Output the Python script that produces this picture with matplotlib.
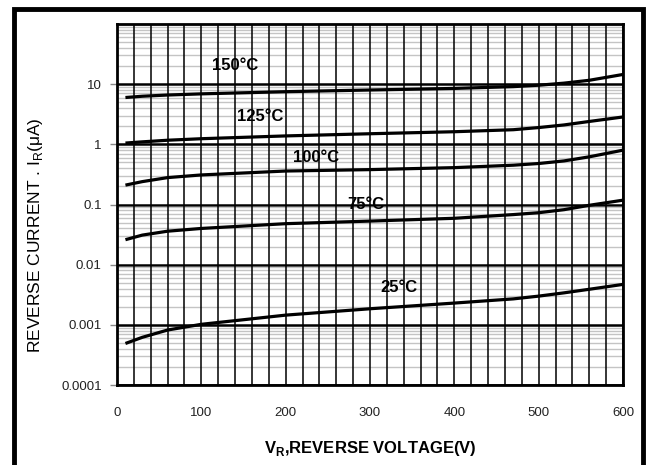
import matplotlib
matplotlib.use('Agg')
import matplotlib.pyplot as plt
from matplotlib.patches import Rectangle
from matplotlib.ticker import LogLocator, FixedLocator, NullFormatter

# Reverse voltage (V) where the curves were read
voltage = [10, 30, 60, 100, 200, 300, 400, 470, 500, 530, 560, 600]

# Reverse current (uA) per junction temperature
ir_150 = [6.0, 6.3, 6.6, 6.9, 7.5, 8.0, 8.5, 9.1, 9.6, 10.4, 11.6, 14.5]
ir_125 = [1.05, 1.1, 1.17, 1.24, 1.38, 1.5, 1.62, 1.75, 1.9, 2.1, 2.4, 2.85]
ir_100 = [0.21, 0.24, 0.28, 0.31, 0.36, 0.38, 0.41, 0.45, 0.48, 0.53, 0.62, 0.8]
ir_75 = [0.026, 0.031, 0.036, 0.040, 0.048, 0.053, 0.059, 0.068, 0.073, 0.082, 0.097, 0.118]
ir_25 = [0.00049, 0.00062, 0.00082, 0.00102, 0.00145, 0.00185, 0.0023, 0.0027,
         0.0030, 0.0034, 0.0039, 0.0047]

curves = [ir_150, ir_125, ir_100, ir_75, ir_25]
labels = ['150°C', '125°C', '100°C', '75°C', '25°C']
label_pos = [(140, 20.5), (170, 2.85), (236, 0.6), (295, 0.1), (334, 0.0041)]

x_ticks = [0, 100, 200, 300, 400, 500, 600]
y_ticks = [0.0001, 0.001, 0.01, 0.1, 1, 10]
y_ticklabels = ['0.0001', '0.001', '0.01', '0.1', '1', '10']

plt.rcParams['font.family'] = ['Liberation Sans', 'DejaVu Sans']

fig = plt.figure(figsize=(6.48, 4.65), dpi=100)
ax = fig.add_axes([117 / 648, 1 - 385 / 465, 506 / 648, 361 / 465])

ax.set_yscale('log')
ax.set_xlim(0, 600)
ax.set_ylim(1e-4, 100)

# grid: gray minor lines under the black voltage lines
ax.xaxis.set_minor_locator(FixedLocator(range(0, 601, 20)))
ax.yaxis.set_minor_locator(LogLocator(base=10, subs=range(2, 10)))
ax.yaxis.set_minor_formatter(NullFormatter())
ax.grid(True, which='minor', axis='y', color='#c4c4c4', lw=1.0)
ax.grid(True, which='minor', axis='x', color='black', lw=1.1)
ax.grid(True, which='major', axis='x', color='black', lw=1.1)
ax.grid(True, which='major', axis='y', color='black', lw=1.8)
ax.set_axisbelow(True)
ax.xaxis.set_zorder(0.6)

for ir in curves:
    ax.plot(voltage, ir, color='black', lw=2.3, solid_capstyle='butt')

for text, (xv, yv) in zip(labels, label_pos):
    ax.text(xv, yv, text, ha='center', va='center', fontsize=12,
            fontweight='bold', color='black')

ax.set_xticks(x_ticks)
ax.set_xticklabels([str(v) for v in x_ticks])
ax.set_yticks(y_ticks)
ax.set_yticklabels(y_ticklabels)
ax.tick_params(axis='x', which='both', length=0, pad=16, labelsize=9.5, labelcolor='#222222')
ax.tick_params(axis='y', which='major', length=5, width=1, color='#888888',
               labelsize=9.5, labelcolor='#222222', pad=6)
ax.tick_params(axis='y', which='minor', length=0)

for s in ax.spines.values():
    s.set_linewidth(2)
    s.set_color('black')

ax.set_xlabel(r'V$_\mathregular{R}$,REVERSE VOLTAGE(V)', fontsize=12,
              fontweight='bold', labelpad=14)
ax.set_ylabel(r'REVERSE CURRENT . I$_\mathregular{R}$(μA)', fontsize=12.5)
ax.yaxis.set_label_coords(-0.142, 0.415)

# outer frame
fig.patches.append(Rectangle((14 / 648, -0.05), 629 / 648, 1.05 - 9 / 465,
                             transform=fig.transFigure, fill=False,
                             edgecolor='black', lw=3.5))

fig.savefig('out.png', dpi=100)
